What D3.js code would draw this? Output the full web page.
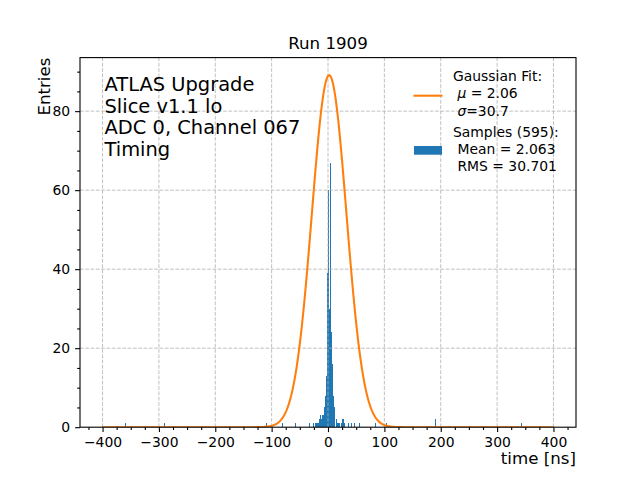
<!DOCTYPE html>
<html>
<head>
<meta charset="utf-8">
<script src="https://cdn.jsdelivr.net/npm/d3@7"></script>
<style>
  body { margin: 0; background: #fff; }
  text { font-family: "DejaVu Sans", sans-serif; fill: #000; }
</style>
</head>
<body>
<div id="target"></div>
<script>
// histogram, 1 ns bins: left edge of the bin (ns) and entries in it
let binStarts = [-360, -291, -110, -81, -58, -33, -26, -23, -22, -21, -20, -19, -18, -17,
  -16, -15, -14, -13, -12, -11, -10, -9, -8, -7, -6, -5, -4, -3, -2, -1,
  0, 1, 2, 3, 4, 5, 6, 7, 8, 9, 10, 11, 12, 14, 15, 16, 18, 20, 23, 25, 27, 29,
  36, 41, 47, 55, 84, 103, 190, 343];
let binCounts = [1, 1, 1, 1, 1, 1, 1, 1, 1, 1, 1, 1, 1, 1,
  2, 2, 3, 2, 2, 3, 3, 5, 3, 5, 10, 8, 11, 13, 33, 39,
  60, 62, 30, 60, 67, 57, 24, 16, 14, 8, 8, 5, 4, 2, 2, 1, 1, 1, 1, 2, 2, 1,
  1, 1, 1, 1, 1, 1, 2, 1];
let binWidth = 1;

// gaussian fit
let fitMu = 2.06,
  fitSigma = 30.7,
  fitAmp = 89.1,
  fitRange = [-400, 400];

let xTicks = [-400, -300, -200, -100, 0, 100, 200, 300, 400];
let yTicks = [0, 20, 40, 60, 80];
let title = "Run 1909";
let infoLines = ["ATLAS Upgrade", "Slice v1.1 lo", "ADC 0, Channel 067", "Timing"];
let fitLabel = [["Gaussian Fit:"], ["\u00a0", "μ", " = 2.06"], ["\u00a0", "σ", "=30.7"]];
let histLabel = [["Samples (595):"], ["\u00a0Mean = 2.063"], ["\u00a0RMS = 30.701"]];

let width = 640,
  height = 480,
  margin = { top: 57.6, right: 64, bottom: 52.8, left: 80 };
let plotW = width - margin.left - margin.right,
  plotH = height - margin.top - margin.bottom;

let svg = d3.select("#target").append("svg")
  .attr("width", width)
  .attr("height", height);

let x = d3.scaleLinear().domain([-440, 440]).range([margin.left, margin.left + plotW]);
let y = d3.scaleLinear().domain([0, fitAmp * 1.05]).range([margin.top + plotH, margin.top]);

svg.append("clipPath").attr("id", "clip")
  .append("rect")
  .attr("x", margin.left).attr("y", margin.top)
  .attr("width", plotW).attr("height", plotH);

let hist = binStarts.map((t, i) => ({ t: t, n: binCounts[i] }));

svg.append("g")
  .attr("fill", "#1f77b4")
  .attr("shape-rendering", "crispEdges")
  .selectAll("rect")
  .data(hist)
  .enter().append("rect")
  .attr("x", d => x(d.t))
  .attr("width", d => x(d.t + binWidth) - x(d.t))
  .attr("y", d => y(d.n))
  .attr("height", d => y(0) - y(d.n));

// grid
let grid = svg.append("g")
  .attr("stroke", "#b0b0b0")
  .attr("stroke-width", 0.8)
  .attr("stroke-dasharray", "3.7,1.6");
grid.selectAll(".gx").data(xTicks).enter().append("line")
  .attr("x1", d => x(d)).attr("x2", d => x(d))
  .attr("y1", margin.top).attr("y2", margin.top + plotH);
grid.selectAll(".gy").data(yTicks.slice(1)).enter().append("line")
  .attr("x1", margin.left).attr("x2", margin.left + plotW)
  .attr("y1", d => y(d)).attr("y2", d => y(d));

// fit curve
let curve = d3.range(fitRange[0], fitRange[1] + 0.5, 1).map(t => [t,
  fitAmp * Math.exp(-0.5 * Math.pow((t - fitMu) / fitSigma, 2))]);
svg.append("path")
  .datum(curve)
  .attr("clip-path", "url(#clip)")
  .attr("fill", "none")
  .attr("stroke", "#ff7f0e")
  .attr("stroke-width", 2.08)
  .attr("d", d3.line().x(d => x(d[0])).y(d => y(d[1])));

// axes
let fmt = d => (d < 0 ? "\u2212" + Math.abs(d) : "" + d);
function styleAxis(g) {
  g.select(".domain").remove();
  g.selectAll("line").attr("stroke", "#000").attr("stroke-width", 1.1);
  g.selectAll("text").attr("font-size", 13.9).attr("font-family", "DejaVu Sans");
}
svg.append("g")
  .attr("transform", "translate(0," + (margin.top + plotH) + ")")
  .call(d3.axisBottom(x).tickValues(xTicks).tickFormat(fmt).tickSize(4.9).tickPadding(4.9))
  .call(styleAxis);
svg.append("g")
  .attr("transform", "translate(0," + (margin.top + plotH) + ")")
  .call(d3.axisBottom(x).tickValues(d3.range(-425, 426, 25).filter(v => v % 100 != 0))
    .tickFormat("").tickSize(2.8))
  .call(styleAxis);
svg.append("g")
  .attr("transform", "translate(" + margin.left + ",0)")
  .call(d3.axisLeft(y).tickValues(yTicks).tickFormat(fmt).tickSize(4.9).tickPadding(4.9))
  .call(styleAxis);
svg.append("g")
  .attr("transform", "translate(" + margin.left + ",0)")
  .call(d3.axisLeft(y).tickValues(d3.range(5, 95, 5).filter(v => v % 20 != 0))
    .tickFormat("").tickSize(2.8))
  .call(styleAxis);

// spines
svg.append("rect")
  .attr("x", margin.left).attr("y", margin.top)
  .attr("width", plotW).attr("height", plotH)
  .attr("fill", "none").attr("stroke", "#000").attr("stroke-width", 1.1);

// labels
svg.append("text")
  .attr("x", x(0)).attr("y", 49.3)
  .attr("text-anchor", "middle")
  .attr("font-size", 16.67)
  .text(title);
svg.append("text")
  .attr("transform", "translate(50," + margin.top + ") rotate(-90)")
  .attr("text-anchor", "end")
  .attr("font-size", 16.67)
  .text("Entries");
svg.append("text")
  .attr("x", margin.left + plotW).attr("y", 464)
  .attr("text-anchor", "end")
  .attr("font-size", 16.67)
  .text("time [ns]");

svg.append("g").selectAll("text")
  .data(infoLines)
  .enter().append("text")
  .attr("x", 104.5)
  .attr("y", (d, i) => 91 + i * 21.5)
  .attr("font-size", 19.44)
  .text(d => d);

// legend
function legendBlock(lines, y0, step) {
  let t = svg.append("g").selectAll("text")
    .data(lines)
    .enter().append("text")
    .attr("x", 453)
    .attr("y", (d, i) => y0 + i * step)
    .attr("font-size", 13.9);
  t.selectAll("tspan")
    .data(d => d)
    .enter().append("tspan")
    .attr("font-style", d => (d == "μ" || d == "σ") ? "italic" : null)
    .text(d => d);
}
legendBlock(fitLabel, 80.7, 17.6);
legendBlock(histLabel, 137.3, 16.6);

svg.append("line")
  .attr("x1", 413.5).attr("x2", 442.5)
  .attr("y1", 95.7).attr("y2", 95.7)
  .attr("stroke", "#ff7f0e").attr("stroke-width", 2.08);
svg.append("rect")
  .attr("x", 414).attr("y", 146)
  .attr("width", 28).attr("height", 8.7)
  .attr("fill", "#1f77b4");
</script>
</body>
</html>
